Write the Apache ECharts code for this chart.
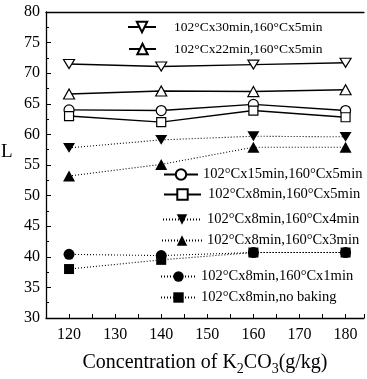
<!DOCTYPE html>
<html>
<head>
<meta charset="utf-8">
<script src="https://cdn.jsdelivr.net/npm/echarts@6/dist/echarts.min.js"></script>
<style>
  html, body { margin: 0; padding: 0; background: #fff; }
  #chart { width: 367px; height: 379px; }
</style>
</head>
<body>
<div id="chart"></div>
<script>
// 横坐标：K2CO3 浓度 (g/kg)
var concentrations = [120, 140, 160, 180];
var xTickLabels = [120, 130, 140, 150, 160, 170, 180];

// 各处理条件下的 L 值
var names = [
	'102°Cx30min,160°Cx5min',
	'102°Cx22min,160°Cx5min',
	'102°Cx15min,160°Cx5min',
	'102°Cx8min,160°Cx5min',
	'102°Cx8min,160°Cx4min',
	'102°Cx8min,160°Cx3min',
	'102°Cx8min,160°Cx1min',
	'102°Cx8min,no baking'
];
var L30min = [71.5, 71.1, 71.4, 71.7];
var L22min = [66.6, 67.1, 67.0, 67.3];
var L15min = [64.0, 63.9, 64.9, 63.9];
var L8min5 = [63.0, 62.0, 63.9, 62.8];
var L8min4 = [57.8, 59.1, 59.7, 59.6];
var L8min3 = [53.2, 55.1, 57.9, 57.9];
var L8min1 = [40.4, 40.2, 40.7, 40.7];
var L8min0 = [38.0, 39.5, 40.7, 40.7];

var FONT = '"Liberation Serif", "DejaVu Serif", serif';
var downTri = 'path://M0,0 L10,0 L5,9 Z';

function pairs(ys){
	return concentrations.map(function(x, i){ return [x, ys[i]]; });
}

function makeSeries(name, ys, symbol, size, filled, dotted){
	return {
		name: name,
		type: 'line',
		data: pairs(ys),
		symbol: symbol,
		symbolSize: size,
		symbolKeepAspect: true,
		z: filled ? 3 : 2,
		itemStyle: {
			color: filled ? '#000' : '#fff',
			borderColor: '#000',
			borderWidth: filled ? 0 : 1.2,
			opacity: 1
		},
		lineStyle: {
			color: '#000',
			width: dotted ? 1.1 : 1.4,
			type: dotted ? [1, 2] : 'solid'
		},
		emphasis: { disabled: true },
		animation: false
	};
}

var seriesList = [
	makeSeries(names[0], L30min, downTri, [11, 10], false, false),
	makeSeries(names[1], L22min, 'triangle', [11, 10], false, false),
	makeSeries(names[2], L15min, 'circle', 10, false, false),
	makeSeries(names[3], L8min5, 'rect', 9, false, false),
	makeSeries(names[4], L8min4, downTri, [12, 11], true, true),
	makeSeries(names[5], L8min3, 'triangle', [12, 11], true, true),
	makeSeries(names[6], L8min1, 'circle', 11, true, true),
	makeSeries(names[7], L8min0, 'rect', 10, true, true)
];

// 每个图例单独摆放
function makeLegend(name, left, cy, iw, gap, fs){
	return {
		data: [name],
		left: left,
		top: cy - 8,
		padding: 0,
		itemWidth: iw,
		itemHeight: 13,
		selectedMode: false,
		textStyle: {
			fontFamily: FONT,
			fontSize: fs,
			color: '#000',
			padding: [0, 0, 0, gap]
		}
	};
}

var legends = [
	makeLegend(names[0], 127, 28, 28, 13, 13.5),
	makeLegend(names[1], 128, 50, 27, 13, 13.5),
	makeLegend(names[2], 163, 175, 34, 0, 14.5),
	makeLegend(names[3], 163, 195, 37, 2, 14.5),
	makeLegend(names[4], 162, 220, 38, 1, 14.5),
	makeLegend(names[5], 161, 241, 40, 0, 14.5),
	makeLegend(names[6], 160, 277, 35, 0, 14.5),
	makeLegend(names[7], 160, 298, 35, 0, 14.5)
];

var option = {
	backgroundColor: '#fff',
	animation: false,
	grid: { left: 46, right: 3, top: 12, bottom: 61, outerBoundsMode: 'none', containLabel: false },
	legend: legends,
	xAxis: [{
		type: 'value',
		min: 115,
		max: 184,
		interval: 5,
		name: '{a|Concentration of K}{s|2}{a|CO}{s|3}{a|(g/kg)}',
		nameLocation: 'middle',
		nameGap: 32,
		nameTextStyle: {
			rich: {
				a: { fontFamily: FONT, fontSize: 20, color: '#000' },
				s: { fontFamily: FONT, fontSize: 14, color: '#000', padding: [12, 0, 0, 0] }
			}
		},
		axisLine: { lineStyle: { color: '#000', width: 1.3 } },
		axisTick: { inside: true, length: 4, lineStyle: { color: '#000' } },
		axisLabel: {
			fontFamily: FONT, fontSize: 16, color: '#000', margin: 9,
			formatter: function(v){ return xTickLabels.indexOf(v) >= 0 ? String(v) : ''; }
		},
		splitLine: { show: false }
	}, {
		type: 'value',
		position: 'top',
		min: 115,
		max: 184,
		axisLine: { show: true, onZero: false, lineStyle: { color: '#000', width: 1.3 } },
		axisTick: { show: false },
		axisLabel: { show: false },
		splitLine: { show: false }
	}],
	yAxis: {
		type: 'value',
		min: 30,
		max: 80,
		interval: 5,
		axisLine: { show: true, lineStyle: { color: '#000', width: 1.3 } },
		axisTick: { inside: true, length: 5, lineStyle: { color: '#000' } },
		minorTick: { show: true, splitNumber: 2, length: 3, lineStyle: { color: '#000' } },
		axisLabel: { fontFamily: FONT, fontSize: 16, color: '#000', margin: 6 },
		splitLine: { show: false }
	},
	graphic: [{
		type: 'text',
		left: 1,
		top: 143,
		style: { text: 'L', font: '19px ' + FONT, fill: '#000' }
	}],
	series: seriesList
};

var chart = echarts.init(document.getElementById('chart'));
chart.setOption(option);
</script>
</body>
</html>
